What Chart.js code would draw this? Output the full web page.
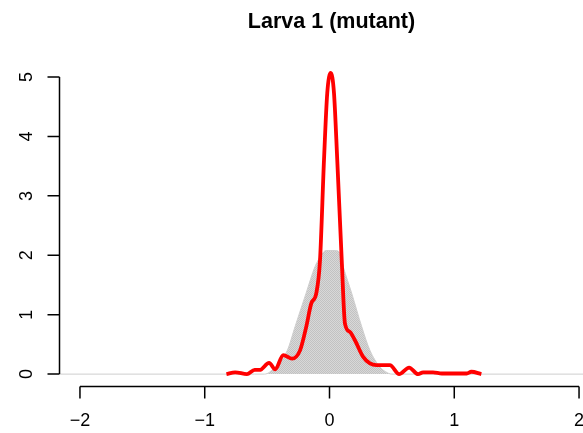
<!DOCTYPE html>
<html>
<head>
<meta charset="utf-8">
<script src="https://cdn.jsdelivr.net/npm/chart.js@4"></script>
<style>
    html, body { margin: 0; padding: 0; background: #fff; overflow: hidden; }
    .wrap { width: 583px; height: 433px; overflow: hidden; }
</style>
</head>
<body>
<div class="wrap"><canvas id="densityChart" width="620" height="433"></canvas></div>
<script>
// reference band (gray)
const bandX = [-2.16, -0.6, -0.52, -0.436, -0.338, -0.276, -0.188, -0.116, -0.06, -0.03, 0.05, 0.085, 0.11, 0.178, 0.258, 0.324, 0.404, 0.45, 0.50, 0.6, 2.16];
const bandY = [0, 0, 0, 0.12, 0.40, 0.80, 1.36, 1.81, 2.02, 2.08, 2.08, 2.02, 1.81, 1.36, 0.80, 0.40, 0.12, 0.04, 0, 0, 0];

// estimated density (red)
const densX = [-0.826, -0.756, -0.662, -0.6, -0.56, -0.484, -0.436, -0.37, -0.30, -0.236, -0.186, -0.146, -0.106, -0.076,
               -0.044, -0.018, 0.01, 0.036, 0.062, 0.098, 0.124, 0.164, 0.204, 0.27, 0.324, 0.375, 0.43, 0.484, 0.558,
               0.638, 0.71, 0.75, 0.83, 0.9, 1.1, 1.137, 1.217];
const densY = [0, 0.03, 0, 0.07, 0.07, 0.19, 0.08, 0.32, 0.26, 0.40, 0.80, 1.19, 1.36, 1.92,
               3.61, 4.73, 5.07, 4.73, 3.61, 1.92, 0.85, 0.71, 0.57, 0.29, 0.18, 0.15, 0.15, 0.15, 0,
               0.11, 0, 0.03, 0.03, 0.01, 0.01, 0.04, 0];

const xTicks = [-2, -1, 0, 1, 2];
const yTicks = [0, 1, 2, 3, 4, 5];
const titleText = 'Larva 1 (mutant)';

const FONT = '"Liberation Sans", Arial, sans-serif';
const fmt = v => (v < 0 ? '\u2212' + Math.abs(v) : String(v));

// stippled gray fill like the R band
const pat = document.createElement('canvas');
pat.width = 2; pat.height = 2;
const pc = pat.getContext('2d');
pc.fillStyle = '#d8d8d8'; pc.fillRect(0, 0, 2, 2);
pc.fillStyle = '#c2c2c2'; pc.fillRect(0, 0, 1, 1); pc.fillRect(1, 1, 1, 1);
const grayFill = pc.createPattern(pat, 'repeat');

const rAxes = {
    id: 'rAxes',
    afterDraw(chart) {
        const { ctx, chartArea, scales } = chart;
        const x = scales.x, y = scales.y;
        ctx.save();
        ctx.strokeStyle = '#000';
        ctx.lineWidth = 1.5;
        ctx.fillStyle = '#000';

        // x axis
        const ax = chartArea.bottom + 0.5;
        ctx.beginPath();
        ctx.moveTo(x.getPixelForValue(xTicks[0]), ax);
        ctx.lineTo(x.getPixelForValue(xTicks[xTicks.length - 1]), ax);
        xTicks.forEach(t => {
            const px = x.getPixelForValue(t);
            ctx.moveTo(px, ax);
            ctx.lineTo(px, ax + 12);
        });
        ctx.stroke();
        ctx.font = '18px ' + FONT;
        ctx.textAlign = 'center';
        ctx.textBaseline = 'middle';
        xTicks.forEach(t => ctx.fillText(fmt(t), x.getPixelForValue(t), 421));

        // y axis
        const ay = chartArea.left - 0.5;
        ctx.beginPath();
        ctx.moveTo(ay, y.getPixelForValue(yTicks[0]));
        ctx.lineTo(ay, y.getPixelForValue(yTicks[yTicks.length - 1]));
        yTicks.forEach(t => {
            const py = y.getPixelForValue(t);
            ctx.moveTo(ay, py);
            ctx.lineTo(ay - 12, py);
        });
        ctx.stroke();
        yTicks.forEach(t => {
            ctx.save();
            ctx.translate(27, y.getPixelForValue(t));
            ctx.rotate(-Math.PI / 2);
            ctx.fillText(fmt(t), 0, 0);
            ctx.restore();
        });

        // title
        ctx.font = 'bold 21.5px ' + FONT;
        ctx.fillText(titleText, (chartArea.left + chartArea.right) / 2 + 2, 22);
        ctx.restore();
    }
};

new Chart(document.getElementById('densityChart'), {
    type: 'line',
    data: {
        datasets: [
            {
                data: densX.map((v, i) => ({ x: v, y: densY[i] })),
                borderColor: '#ff0000',
                borderWidth: 3.8,
                pointRadius: 0,
                fill: false,
                cubicInterpolationMode: 'monotone',
                order: 1,
            },
            {
                data: bandX.map((v, i) => ({ x: v, y: bandY[i] })),
                borderColor: '#cfcfcf',
                borderWidth: 1,
                backgroundColor: grayFill,
                pointRadius: 0,
                fill: { value: 0 },
                cubicInterpolationMode: 'monotone',
                order: 2,
            },
        ],
    },
    options: {
        responsive: false,
        animation: false,
        devicePixelRatio: 1,
        layout: { padding: { left: 60, right: 21, top: 61, bottom: 47 } },
        plugins: { legend: { display: false }, tooltip: { enabled: false }, title: { display: false } },
        scales: {
            x: { type: 'linear', min: -2.16, max: 2.16, display: false },
            y: { type: 'linear', min: -0.2, max: 5.27, display: false },
        },
    },
    plugins: [rAxes],
});
</script>
</body>
</html>
